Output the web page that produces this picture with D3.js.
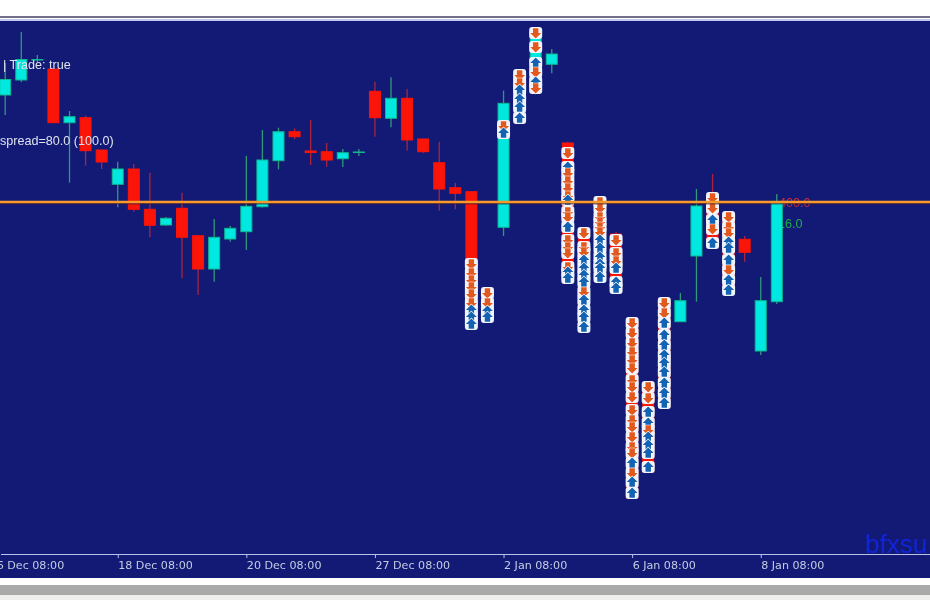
<!DOCTYPE html>
<html><head><meta charset="utf-8">
<script src="https://cdn.jsdelivr.net/npm/d3@7"></script>
<style>
html,body{margin:0;padding:0;background:#fff;overflow:hidden}
svg{display:block;filter:blur(0.45px)}
</style></head><body>
<div id="chart"></div>
<script>
// Candles, in price points
const opens  = [459,474,494,485,431.3,436.3,404,369.7,385,344.7,329,345.7,318.3,285,315,322.3,347.3,393.3,422.3,403,402.3,395.3,401.5,462.7,435.7,455.7,415,391.3,366.3,362.3,256,326.7,436,464,489.7,411,324,352,320,232,171,254,232.3,298,356,340,314.7,203,252.3];
const closes = [474.5,494.5,494.5,431.3,437.3,403.3,392,385,344.7,328.7,335.7,316.7,285,316.7,325.7,347.7,394,422.3,417.3,401.5,394,401.3,402,436.3,455.7,414,402.3,365,360.7,286,236,450.7,474,522,500,274,226,276,264,56,82,148,253.3,348,314,264,301.7,253.3,352.3];
const highs  = [491,522,499,485,443,438.3,404,392.3,390,381.3,337,361.3,318.3,335,328,398.3,424,426.3,425.7,434,411,405,405,472.3,476.7,465,415,412.3,371,362.3,262,463.3,476,522,505,412.3,324,352,322,232,171,254,261,365,380,340,318,277,360];
const lows   = [439,472,492,431.3,371.3,388.3,385,346.7,342.3,316.7,328,275.7,259,272.3,312.3,304,346.3,384.7,414.7,389,387.3,387,398,417.3,426.7,403.3,401,343.3,344.7,280,232,318,436,464,480.7,270,226,276,262,56,82,148,232.3,252.3,310,264,292.3,199,250];

// Trade arrows: bar index, price levels, direction (d = sell, u = buy)
const stackBars = [29,30,31,32,33,35,36,37,38,39,40,41,44,45];
const stackPrices = [
  [290,281,274,267,260,251,244,237,230],
  [261,251,243,237],
  [428,421],
  [479,471,464,455,447,436],
  [521,507,491,482,472,466],
  [401,387,381,373,366,358,354,342,337,327,314,307,301,287,282,276],
  [321,307,302,294,286,279,272,262,254,244,237,227],
  [352,346,337,332,327,322,314,306,297,290,286,277],
  [314,301,293,286,272,266],
  [231,221,211,202,194,186,174,167,157,144,134,127,117,107,101,91,81,72,61],
  [167,156,142,131,124,117,109,101,87],
  [251,241,231,219,209,199,191,182,171,161,151],
  [356,346,334,325,311],
  [337,327,321,312,306,294,284,274,264]
];
const stackDirs = [
  "dddddduuu","dduu","du","dduuuu","ddudud",
  "dudddduddudddduu","ddduuuuduuuu","dddddduuuuuu","ddduuu",
  "ddddddddddddddduduu","dduuduuuu","dduuuuuuuuu","ddudu","ddduuuduu"
];

const priceLine = 352;
const tickBars = [-1,7,15,23,31,39,47];
const tickLabels = ["16 Dec 08:00","18 Dec 08:00","20 Dec 08:00","27 Dec 08:00","2 Jan 08:00","6 Jan 08:00","8 Jan 08:00"];
const infoTexts = ["| Trade: true","spread=80.0 (100.0)"];
const levelTexts = ["400.0","16.0"];
const brandText = "bfxsu";

const W = 930, H = 600;
const svg = d3.select("#chart").append("svg").attr("width",W).attr("height",H);
const x = d3.scaleLinear().domain([-0.2925,57.56]).range([0.5,W+0.5]);
const y = d3.scaleLinear().domain([0,534]).range([554,20]);

// window frame
svg.append("rect").attr("width",W).attr("height",H).attr("fill","#ffffff");
svg.append("rect").attr("y",16).attr("width",W).attr("height",2).attr("fill","#70708a");
svg.append("rect").attr("y",19).attr("width",W).attr("height",2).attr("fill","#c4c8ec");
svg.append("rect").attr("y",21).attr("width",W).attr("height",557).attr("fill","#121a76");
svg.append("rect").attr("y",585).attr("width",W).attr("height",10).attr("fill","#a9aaa9");
svg.append("rect").attr("y",595).attr("width",W).attr("height",5).attr("fill","#efefee");

// brand
svg.append("text").attr("x",865).attr("y",553).attr("fill","#1224d8")
  .style("font","26px 'Liberation Sans'").text(brandText);

// axis
const axis = d3.axisBottom(x).tickValues(tickBars).tickSize(4).tickSizeOuter(0)
  .tickFormat((d,i)=>tickLabels[i]);
const ax = svg.append("g").attr("transform",`translate(0,${y(0)})`).call(axis);
ax.select(".domain").attr("stroke","#b8c2ea");
ax.selectAll(".tick line").attr("stroke","#b8c2ea");
ax.selectAll(".tick text").attr("text-anchor","start").attr("y",7)
  .attr("fill","#c6cde2").style("font","11.1px 'DejaVu Sans'");

// level labels, behind the candles
svg.append("text").attr("x",779).attr("y",y(priceLine)+5).attr("fill","#d02c34")
  .style("font","12.6px 'Liberation Sans'").text(levelTexts[0]);
svg.append("text").attr("x",778).attr("y",228).attr("fill","#1eb04a")
  .style("font","12.6px 'Liberation Sans'").text(levelTexts[1]);

// candles
const bars = d3.range(opens.length).map(i=>({i,o:opens[i],c:closes[i],h:highs[i],l:lows[i]}));
const bodyW = 11;
const g = svg.append("g");
g.selectAll("line.wick").data(bars).join("line").attr("class","wick")
  .attr("x1",d=>x(d.i)).attr("x2",d=>x(d.i))
  .attr("y1",d=>y(d.h)).attr("y2",d=>y(d.l))
  .attr("stroke",d=>d.c>=d.o?"#2f9a78":"#a8263c").attr("stroke-width",1.3);
g.selectAll("rect.body").data(bars).join("rect").attr("class","body")
  .attr("x",d=>x(d.i)-bodyW/2).attr("width",bodyW)
  .attr("y",d=>y(Math.max(d.o,d.c)))
  .attr("height",d=>Math.abs(y(d.o)-y(d.c)))
  .attr("fill",d=>d.c>=d.o?"#00e8e0":"#fb1408")
  .attr("stroke",d=>d.c>=d.o?"#10b890":"#fb1408").attr("stroke-width",1);

// trade arrows: a white backing under each, then the coloured arrow
const marks = stackBars.flatMap((b,s)=>stackPrices[s].map((p,k)=>({b,p,dir:stackDirs[s][k]||"u"})));
g.selectAll("rect.back").data(marks).join("rect").attr("class","back")
  .attr("x",d=>x(d.b)-6.5).attr("width",13)
  .attr("y",d=>y(d.p)-6).attr("height",12).attr("rx",3)
  .attr("fill","#eef3fb");
const arrow = {draw(ctx,size){
  const r = Math.sqrt(size)/2;
  ctx.moveTo(0,-r);ctx.lineTo(r,0);ctx.lineTo(r*0.5,0);ctx.lineTo(r*0.5,r*0.85);
  ctx.lineTo(-r*0.5,r*0.85);ctx.lineTo(-r*0.5,0);ctx.lineTo(-r,0);ctx.closePath();
}};
const arrowPath = d3.symbol().type(arrow).size(121)();
g.selectAll("path.trade").data(marks).join("path").attr("class","trade")
  .attr("d",arrowPath)
  .attr("transform",d=>`translate(${x(d.b)},${y(d.p)}) rotate(${d.dir==="d"?180:0})`)
  .attr("fill",d=>d.dir==="d"?"#e2591f":"#1463b2")
  .attr("stroke","#ffffff").attr("stroke-width",1.2)
  .attr("paint-order","stroke").attr("stroke-linejoin","round");

// current price line
svg.append("line").attr("x1",0).attr("x2",W).attr("y1",y(priceLine)+1.8).attr("y2",y(priceLine)+1.8)
  .attr("stroke","#3c1430").attr("stroke-width",1);
svg.append("line").attr("x1",0).attr("x2",W).attr("y1",y(priceLine)).attr("y2",y(priceLine))
  .attr("stroke","#f79a2a").attr("stroke-width",2.4);

// labels
const lab = svg.append("g").style("font","12.6px 'Liberation Sans'").attr("fill","#dfe3ee");
lab.append("text").attr("x",3).attr("y",69).text(infoTexts[0]);
lab.append("text").attr("x",0).attr("y",145).text(infoTexts[1]);
</script></body></html>
